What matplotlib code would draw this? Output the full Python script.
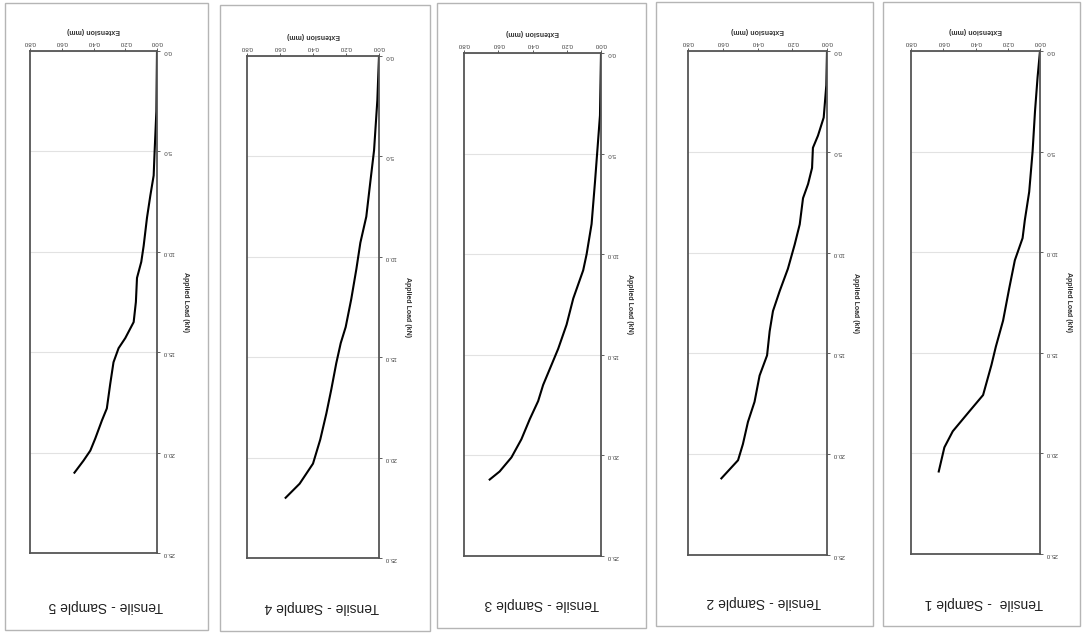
"""Tensile test curves, five samples (scanned page is upside down)"""

import matplotlib.pyplot as plt
from matplotlib.patches import Rectangle

plt.rcParams['font.family'] = ['Liberation Sans', 'DejaVu Sans']

# load (kN) / extension (mm)
s1_load = [0.0, 1.3, 3.0, 5.0, 7.0, 8.4, 9.3, 10.4, 11.8, 13.4, 14.7, 15.6, 17.1, 17.9, 18.9, 19.7, 20.9]
s1_ext = [0.0, 0.015, 0.031, 0.046, 0.067, 0.094, 0.108, 0.156, 0.191, 0.229, 0.274, 0.301, 0.353, 0.437, 0.541, 0.593, 0.628]

s2_load = [0.0, 1.7, 3.3, 4.2, 4.8, 5.8, 6.6, 7.3, 8.6, 9.6, 10.8, 11.9, 12.9, 13.9, 15.1, 16.1, 17.4, 18.4, 19.5, 20.3, 21.2]
s2_ext = [0.0, 0.004, 0.019, 0.052, 0.081, 0.086, 0.109, 0.138, 0.157, 0.186, 0.225, 0.272, 0.311, 0.33, 0.345, 0.388, 0.417, 0.455, 0.484, 0.512, 0.608]

s3_load = [0.0, 3.1, 4.7, 6.4, 8.5, 10.0, 10.8, 12.2, 13.5, 14.7, 15.5, 16.5, 17.3, 18.2, 19.2, 20.1, 20.8, 21.2]
s3_ext = [0.0, 0.006, 0.02, 0.035, 0.055, 0.084, 0.104, 0.162, 0.201, 0.25, 0.289, 0.338, 0.367, 0.416, 0.465, 0.523, 0.592, 0.65]

s4_load = [0.0, 2.2, 4.7, 6.3, 8.0, 9.3, 10.6, 12.1, 13.5, 14.3, 15.3, 16.6, 17.8, 19.1, 20.3, 21.3, 22.0]
s4_ext = [0.0, 0.01, 0.03, 0.053, 0.077, 0.113, 0.137, 0.168, 0.202, 0.232, 0.259, 0.289, 0.319, 0.356, 0.40, 0.481, 0.566]

s5_load = [0.0, 3.0, 5.0, 6.2, 7.2, 8.3, 9.7, 10.5, 11.3, 12.5, 13.5, 14.3, 14.8, 15.5, 16.6, 17.8, 18.4, 19.3, 19.9, 20.4, 21.0]
s5_ext = [0.0, 0.004, 0.015, 0.021, 0.042, 0.063, 0.084, 0.099, 0.126, 0.133, 0.147, 0.20, 0.242, 0.274, 0.295, 0.316, 0.347, 0.389, 0.42, 0.463, 0.52]

titles = ['Tensile - Sample 5', 'Tensile - Sample 4', 'Tensile - Sample 3',
          'Tensile - Sample 2', 'Tensile  - Sample 1']
x_ticks = [0.0, 0.2, 0.4, 0.6, 0.8]
y_ticks = [0.0, 5.0, 10.0, 15.0, 20.0, 25.0]

W, H = 1086, 634
# pixel boxes: axes (x0, y0, x1, y1), frame (x0, y0, x1, y1), title centre
layout = [
    ((30, 51, 157, 553), (5, 3, 208, 630), (106, 606)),
    ((247, 56, 379, 558), (220, 5, 430, 631), (322, 607)),
    ((464, 53, 601, 556), (437, 3, 646, 628), (542, 604)),
    ((688, 51, 827, 555), (656, 2, 873, 626), (764, 602)),
    ((911, 51, 1040, 554), (883, 2, 1080, 626), (984, 603)),
]
series = [(s5_ext, s5_load), (s4_ext, s4_load), (s3_ext, s3_load),
          (s2_ext, s2_load), (s1_ext, s1_load)]

fig = plt.figure(figsize=(W / 100, H / 100), dpi=100)
fig.patch.set_facecolor('white')

for (ab, fb, tc), (ext, load), title in zip(layout, series, titles):
    # outer frame of each chart
    fig.patches.append(Rectangle((fb[0] / W, 1 - fb[3] / H), (fb[2] - fb[0]) / W,
                                 (fb[3] - fb[1]) / H, transform=fig.transFigure,
                                 fill=False, edgecolor='#b5b5b5', lw=1.0))
    ax = fig.add_axes([ab[0] / W, 1 - ab[3] / H, (ab[2] - ab[0]) / W, (ab[3] - ab[1]) / H])
    ax.plot(ext, load, color='black', lw=1.5)
    ax.set_xlim(0.8, 0.0)
    ax.set_ylim(25.0, 0.0)
    ax.set_xticks(x_ticks)
    ax.set_xticklabels([f"{v:.2f}" for v in x_ticks])
    ax.set_yticks(y_ticks)
    ax.set_yticklabels([f"{v:.1f}" for v in y_ticks])
    ax.xaxis.tick_top()
    ax.yaxis.tick_right()
    ax.tick_params(axis='both', labelsize=4.5, length=2, width=0.6,
                   colors='#444444', labelrotation=180, pad=2)
    ax.grid(axis='y', color='#e2e2e2', lw=0.8)
    ax.set_axisbelow(True)
    for sp in ax.spines.values():
        sp.set_color('#555555')
        sp.set_linewidth(1.3)
    ax.xaxis.set_label_position('top')
    ax.yaxis.set_label_position('right')
    ax.set_xlabel('Extension (mm)', fontsize=5, fontweight='bold', rotation=180,
                  labelpad=6, color='#333333')
    ax.set_ylabel('Applied Load (kN)', fontsize=5, fontweight='bold', rotation=270,
                  labelpad=8, color='#333333', va='center')
    fig.text(tc[0] / W, 1 - tc[1] / H, title, fontsize=10, rotation=180,
             ha='center', va='center', color='#222222')

fig.savefig('out.png', dpi=100)
